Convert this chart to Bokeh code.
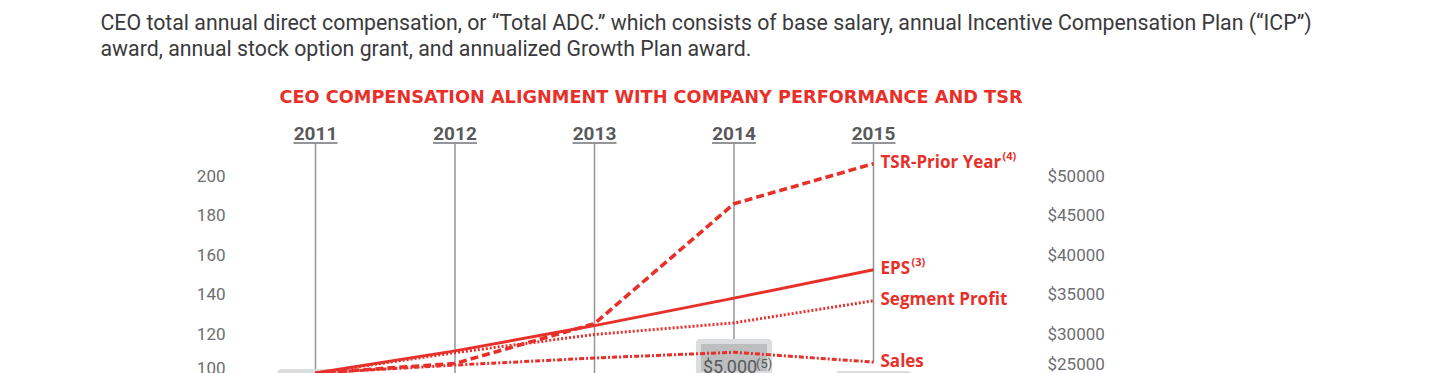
from bokeh.plotting import figure
from bokeh.models import (Range1d, LinearAxis, FixedTicker, NumeralTickFormatter,
                          ColumnDataSource)
from bokeh.core.properties import value
from bokeh.embed import file_html
from bokeh.resources import INLINE

# ---------------- data ----------------
years = [2011, 2012, 2013, 2014, 2015]
year_labels = ["2011", "2012", "2013", "2014", "2015"]
tsr_prior_year = [100, 104.8, 125.0, 185.7, 206.0]
eps = [100, 111.2, 124.0, 137.9, 152.3]
segment_profit = [100, 110.3, 119.5, 125.4, 136.6]
sales = [100, 104.0, 107.6, 110.5, 105.5]

series_names = ["TSR-Prior Year", "EPS", "Segment Profit", "Sales"]
series_refs = ["(4)", "(3)", "", ""]

# Total ADC bars (only the bars whose tops are visible in the crop)
bar_years = [2011, 2014, 2015]
total_adc = [25200, 29000, 24900]
bar_notes = ["", "$5,000", ""]
bar_note_refs = ["", "(5)", ""]

index_ticks = [100, 120, 140, 160, 180, 200]
dollar_ticks = [25000, 30000, 35000, 40000, 45000, 50000]

title_text = "CEO COMPENSATION ALIGNMENT WITH COMPANY PERFORMANCE AND TSR"
intro_lines = [
    "CEO total annual direct compensation, or \u201cTotal ADC.\u201d which consists of base salary, annual Incentive Compensation Plan (\u201cICP\u201d)",
    "award, annual stock option grant, and annualized Growth Plan award.",
]

# ---------------- layout / style ----------------
RED = "#e8302a"
GUIDE = "#939598"
YEAR_COLOR = "#58595b"
TICK_COLOR = "#6d6e71"
TEXT_COLOR = "#3a3a3c"

W, H = 1440, 373
X_ORIGIN_PX, X_STEP_PX = 315.0, 139.5      # px of first year, px per year
Y100_PX, PX_PER_UNIT = 372.5, 1.975         # px of index 100, px per index unit
LEFT_AXIS_PX, RIGHT_AXIS_PX = 235.0, 1040.0
USD_PER_UNIT = 250.0


def xd(px):
    return years[0] + (px - X_ORIGIN_PX) / X_STEP_PX


def yd(py):
    return 100 + (Y100_PX - py) / PX_PER_UNIT


x_start, x_end = xd(0), xd(W)
y_start, y_end = yd(H), yd(0)

p = figure(width=W, height=H, output_backend="svg", toolbar_location=None,
           x_range=Range1d(x_start, x_end), y_range=Range1d(y_start, y_end),
           x_axis_location=None, y_axis_location=None,
           min_border_left=0, min_border_right=0,
           min_border_top=0, min_border_bottom=0)
p.outline_line_color = None
p.grid.visible = False
p.background_fill_color = "white"
p.border_fill_color = "white"
p.extra_y_ranges = {"usd": Range1d(y_start * USD_PER_UNIT, y_end * USD_PER_UNIT)}

axis_style = dict(axis_line_color=None, major_tick_line_color=None,
                  minor_tick_line_color=None, major_tick_in=0, major_tick_out=0,
                  major_label_text_font="Roboto", major_label_text_font_size="17px",
                  major_label_text_color=TICK_COLOR)
left_axis = LinearAxis(ticker=FixedTicker(ticks=index_ticks), fixed_location=xd(LEFT_AXIS_PX),
                       major_label_standoff=10, **axis_style)
p.add_layout(left_axis, "left")

right_axis = LinearAxis(y_range_name="usd", ticker=FixedTicker(ticks=dollar_ticks),
                        formatter=NumeralTickFormatter(format="$0"),
                        fixed_location=xd(RIGHT_AXIS_PX),
                        major_label_standoff=7, **axis_style)
p.add_layout(right_axis, "right")

# year guides
min_at_year = [min(v) for v in zip(tsr_prior_year, eps, segment_profit, sales)]
guide_bottom = []
for i, yr in enumerate(years):
    if yr == years[-1]:
        guide_bottom.append(min_at_year[i])
    elif yr in bar_years:
        guide_bottom.append(total_adc[bar_years.index(yr)] / USD_PER_UNIT)
    else:
        guide_bottom.append(y_start - 1)
guide_top = yd(143)
p.segment(x0=years, y0=[guide_top] * len(years), x1=years, y1=guide_bottom,
          line_color=GUIDE, line_width=1.5)

half = 22 / X_STEP_PX
p.segment(x0=[y - half for y in years], y0=[yd(142.5)] * len(years),
          x1=[y + half for y in years], y1=[yd(142.5)] * len(years),
          line_color=GUIDE, line_width=1.8)
p.text(x=years, y=[yd(133)] * len(years), text=year_labels,
       text_align="center", text_baseline="middle",
       text_font=value("Roboto"), text_font_style="bold", text_font_size="19px",
       text_color=YEAR_COLOR)

# bars
bars = ColumnDataSource(dict(x=bar_years, top=total_adc, note=bar_notes, ref=bar_note_refs))
p.vbar(x="x", top="top", bottom=0, width=0.51, source=bars, y_range_name="usd",
       fill_color="#bcbec0", line_color="#dcddde", line_width=5)
p.text(x="x", y="top", text="note", source=bars, y_range_name="usd",
       x_offset=-31, y_offset=25, text_align="left", text_baseline="middle",
       text_font=value("Roboto"), text_font_size="18px", text_color=YEAR_COLOR)
p.text(x="x", y="top", text="ref", source=bars, y_range_name="usd",
       x_offset=22, y_offset=22, text_align="left", text_baseline="middle",
       text_font=value("Roboto"), text_font_size="13px", text_color=YEAR_COLOR)

# lines
p.line(years, sales, line_color=RED, line_width=3, line_dash="5 2 2 2")
p.line(years, segment_profit, line_color=RED, line_width=3, line_dash="2 2")
p.line(years, eps, line_color=RED, line_width=3)
p.line(years, tsr_prior_year, line_color=RED, line_width=3.6, line_dash="8 4")

# end labels
last = [tsr_prior_year[-1], eps[-1], segment_profit[-1], sales[-1]]
end_src = ColumnDataSource(dict(x=[years[-1]] * 4, y=last, name=series_names,
                                ref=series_refs, ref_dx=[129, 38, 0, 0]))
p.text(x="x", y="y", text="name", source=end_src, x_offset=7, y_offset=-2,
       text_align="left", text_baseline="middle",
       text_font=value("Open Sans"), text_font_style="bold", text_font_size="17px",
       text_color=RED)
p.text(x="x", y="y", text="ref", source=end_src, x_offset="ref_dx", y_offset=-8,
       text_align="left", text_baseline="middle",
       text_font=value("Open Sans"), text_font_style="bold", text_font_size="11px",
       text_color=RED)

# title
p.text(x=[xd(650.5)], y=[yd(96)], text=[title_text], text_align="center",
       text_baseline="middle", text_font=value("DejaVu Sans"), text_font_style="bold",
       text_font_size="17.7px", text_color=RED)

# intro paragraph
p.text(x=[xd(100)] * len(intro_lines), y=[yd(22 + 26 * i) for i in range(len(intro_lines))],
       text=intro_lines, text_align="left", text_baseline="middle",
       text_font=value("Roboto"), text_font_size="21.3px", text_color=TEXT_COLOR)

open("out.html", "w").write(file_html(p, INLINE))
